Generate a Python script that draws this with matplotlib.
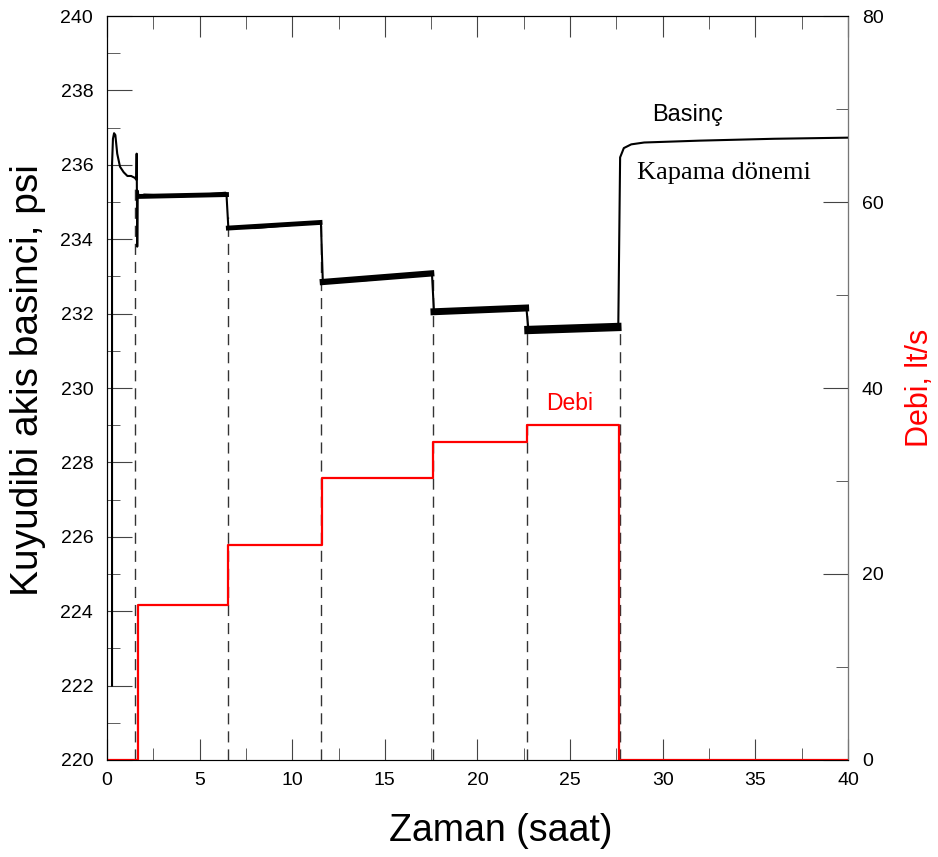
import matplotlib.pyplot as plt
from matplotlib.ticker import MultipleLocator

# basinc (psi) - okunan noktalar
t_bas = [0.27, 0.27, 0.32, 0.38, 0.45, 0.55, 0.7, 0.9, 1.1, 1.3, 1.5, 1.58,
         1.6, 1.63, 1.66, 1.7, 1.8, 2.0, 4.0, 6.4, 6.45,
         6.55, 8.0, 11.5, 11.55,
         11.65, 14.0, 17.5, 17.55,
         17.65, 20.0, 22.6, 22.65,
         22.75, 25.0, 27.55, 27.6,
         27.7, 27.9, 28.3, 29.0, 32.0, 36.0, 40.0]
p_bas = [222.0, 236.0, 236.7, 236.85, 236.8, 236.3, 235.95, 235.8, 235.7, 235.7, 235.65, 235.6,
         236.3, 233.8, 235.3, 235.15, 235.15, 235.2, 235.15, 235.25, 235.2,
         234.3, 234.3, 234.45, 234.4,
         232.85, 232.9, 233.08, 233.0,
         232.05, 232.1, 232.15, 232.1,
         231.56, 231.6, 231.64, 231.6,
         236.2, 236.45, 236.55, 236.6, 236.65, 236.7, 236.73]

# gurultulu platolar
plato_t0 = [1.75, 6.55, 11.65, 17.65, 22.75]
plato_t1 = [6.45, 11.5, 17.5, 22.6, 27.55]
plato_p0 = [235.15, 234.3, 232.85, 232.05, 231.56]
plato_p1 = [235.2, 234.45, 233.08, 232.15, 231.64]
plato_lw = [3.5, 3.5, 4.5, 5.0, 6.0]

# debi (lt/s) basamaklari
t_debi = [0, 1.67, 1.67, 6.55, 6.55, 11.6, 11.6, 17.6, 17.6, 22.65, 22.65, 27.62, 27.62, 40]
q_debi = [0, 0, 16.7, 16.7, 23.1, 23.1, 30.3, 30.3, 34.2, 34.2, 36.0, 36.0, 0, 0]

# kesikli cizgiler
t_kesik = [1.5, 6.53, 11.55, 17.6, 22.67, 27.7]
p_kesik = [235.4, 234.6, 234.4, 233.0, 232.1, 231.6]

plt.rcParams['font.family'] = ['Liberation Sans', 'DejaVu Sans']
fig = plt.figure(figsize=(9.38, 8.57), dpi=100)
ax = fig.add_axes([0.1141, 0.1132, 0.7899, 0.8681])

ax.vlines(t_kesik, 220, p_kesik, colors='#333333', linestyles=(0, (8, 5)), lw=1.0)
ax.plot(t_bas, p_bas, color='black', lw=1.5)
for a, b, c, d, w in zip(plato_t0, plato_t1, plato_p0, plato_p1, plato_lw):
    ax.plot([a, b], [c, d], color='black', lw=w)

ax.set_xlim(0, 40)
ax.set_ylim(220, 240)
ax.xaxis.set_major_locator(MultipleLocator(5))
ax.xaxis.set_minor_locator(MultipleLocator(2.5))
ax.yaxis.set_major_locator(MultipleLocator(2))
ax.yaxis.set_minor_locator(MultipleLocator(1))
ax.tick_params(which='both', direction='in', top=True, color='#444444')
ax.tick_params(which='major', length=18, labelsize=14, pad=10)
ax.tick_params(axis='x', which='major', length=15, pad=9)
ax.tick_params(which='minor', length=9)
ax.spines['bottom'].set_color('#777777')

ax2 = ax.twinx()
ax2.plot(t_debi, q_debi, color='red', lw=1.6)
ax2.set_ylim(0, 80)
ax2.yaxis.set_major_locator(MultipleLocator(20))
ax2.yaxis.set_minor_locator(MultipleLocator(10))
ax2.tick_params(which='both', direction='in', color='#444444')
ax2.tick_params(which='major', length=18, labelsize=14, pad=10)
ax2.tick_params(which='minor', length=9)
ax2.spines['right'].set_color('#777777')

fig.text(28 / 938, 1 - 380 / 857, 'Kuyudibi akis basinci, psi', fontsize=28,
         rotation=90, ha='center', va='center')
fig.text(920 / 938, 1 - 388 / 857, 'Debi, lt/s', fontsize=22, color='red',
         rotation=90, ha='center', va='center')
fig.text(501 / 938, 1 - 831 / 857, 'Zaman (saat)', fontsize=27,
         ha='center', va='center')

ax.text(29.42, 237.34, 'Basinç', fontsize=17, ha='left', va='center')
ax.text(28.6, 235.78, 'Kapama dönemi', fontsize=19, ha='left', va='center',
        family='Liberation Serif')
ax2.text(25.0, 38.3, 'Debi', fontsize=16.5, color='red', ha='center', va='center')

fig.savefig('out.png', dpi=100)
